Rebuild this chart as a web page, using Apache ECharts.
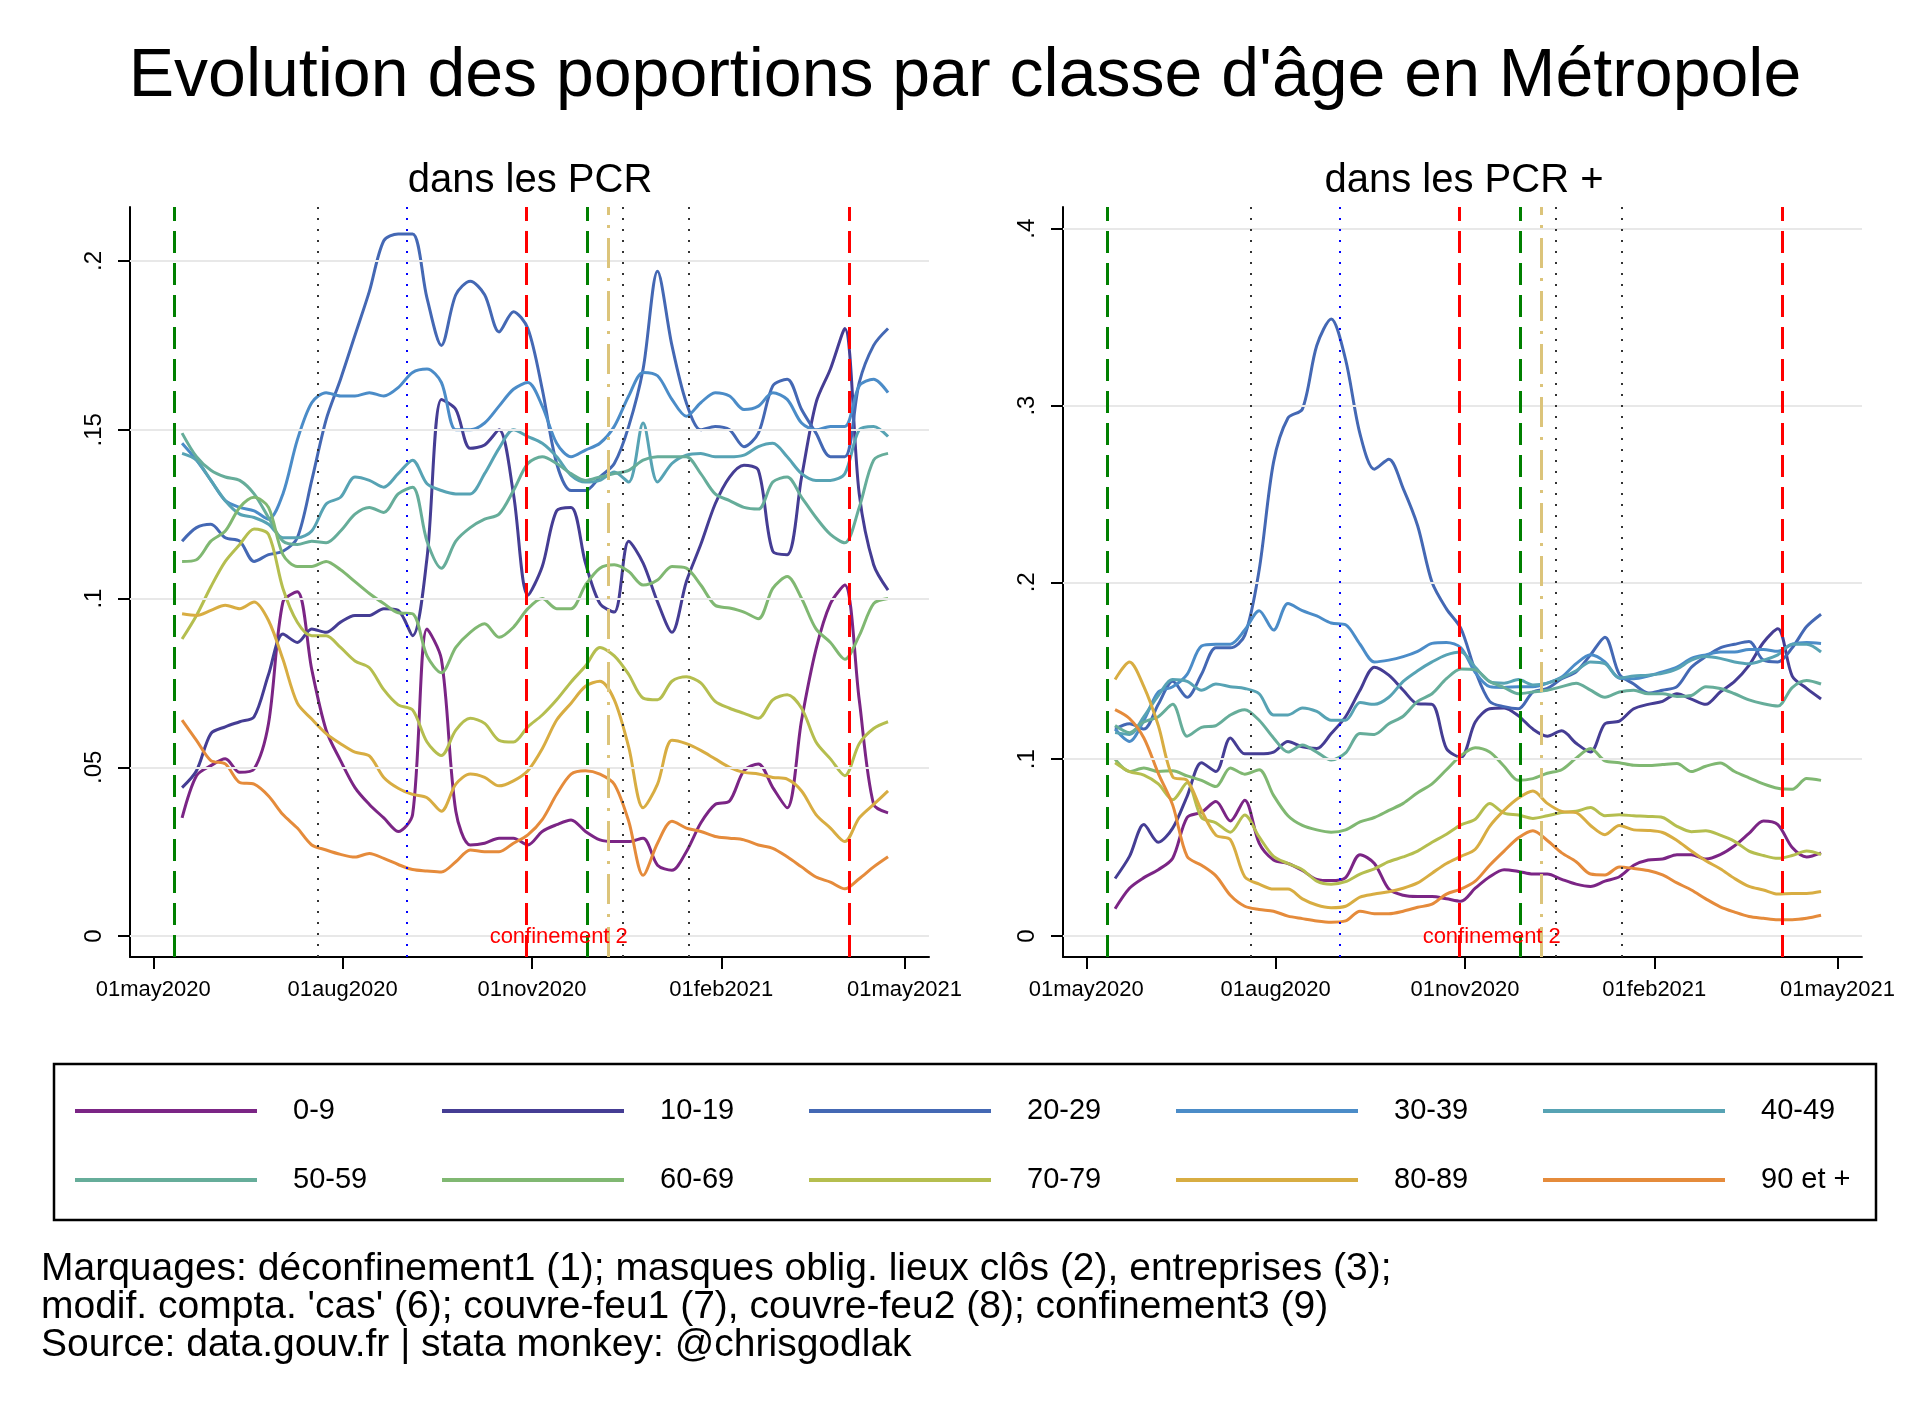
<!DOCTYPE html>
<html lang="fr">
<head>
  <meta charset="utf-8">
  <title>Evolution des proportions par classe d'âge en Métropole</title>
  <style>
    html, body { margin: 0; padding: 0; background: #ffffff; }
    #chart { width: 1930px; height: 1404px; }
  </style>
</head>
<body>
  <div id="chart"></div>

  <script type="text/javascript" src="https://cdn.jsdelivr.net/npm/echarts@6.0.0/dist/echarts.min.js"></script>

  <script type="text/javascript">
    // dates des points (moyenne glissante, une valeur par semaine)
    var dates = [
      '2020-05-15', '2020-05-22', '2020-05-29', '2020-06-05', '2020-06-12', '2020-06-19', '2020-06-26', '2020-07-03', '2020-07-10', '2020-07-17',
      '2020-07-24', '2020-07-31', '2020-08-07', '2020-08-14', '2020-08-21', '2020-08-28', '2020-09-04', '2020-09-11', '2020-09-18', '2020-09-25',
      '2020-10-02', '2020-10-09', '2020-10-16', '2020-10-23', '2020-10-30', '2020-11-06', '2020-11-13', '2020-11-20', '2020-11-27', '2020-12-04',
      '2020-12-11', '2020-12-18', '2020-12-25', '2021-01-01', '2021-01-08', '2021-01-15', '2021-01-22', '2021-01-29', '2021-02-05', '2021-02-12',
      '2021-02-19', '2021-02-26', '2021-03-05', '2021-03-12', '2021-03-19', '2021-03-26', '2021-04-02', '2021-04-09', '2021-04-16', '2021-04-23'
    ];

    var ageGroups = ['0-9', '10-19', '20-29', '30-39', '40-49', '50-59', '60-69', '70-79', '80-89', '90 et +'];
    var ageColors = ['#7b2585', '#453d94', '#4468b4', '#4b8cc8', '#57a3b4', '#66ad9a', '#80b872', '#b5be4f', '#d8ad42', '#e58b3b'];

    // part de chaque classe d'âge dans les PCR
    var pcr_0_9 = [0.035, 0.0475, 0.0505, 0.0525, 0.0485, 0.0495, 0.063, 0.099, 0.102, 0.079,
      0.061, 0.052, 0.044, 0.039, 0.035, 0.031, 0.036, 0.091, 0.082, 0.037,
      0.027, 0.0275, 0.029, 0.029, 0.027, 0.031, 0.033, 0.0344, 0.031, 0.0285,
      0.028, 0.028, 0.029, 0.021, 0.0195, 0.025, 0.0335, 0.039, 0.040, 0.049,
      0.051, 0.044, 0.038, 0.064, 0.085, 0.0985, 0.104, 0.070, 0.039, 0.0365];
    var pcr_10_19 = [0.044, 0.049, 0.060, 0.062, 0.0635, 0.065, 0.0775, 0.0895, 0.087, 0.091,
      0.090, 0.093, 0.095, 0.095, 0.097, 0.0965, 0.089, 0.112, 0.159, 0.156,
      0.1445, 0.1455, 0.150, 0.131, 0.101, 0.1095, 0.126, 0.127, 0.1105, 0.0985,
      0.096, 0.117, 0.1105, 0.099, 0.090, 0.105, 0.116, 0.128, 0.136, 0.1395,
      0.138, 0.114, 0.113, 0.136, 0.158, 0.168, 0.180, 0.131, 0.110, 0.1025];
    var pcr_20_29 = [0.117, 0.121, 0.122, 0.118, 0.117, 0.111, 0.113, 0.114, 0.118, 0.135,
      0.153, 0.165, 0.178, 0.191, 0.206, 0.208, 0.208, 0.189, 0.175, 0.190,
      0.194, 0.190, 0.179, 0.185, 0.180, 0.162, 0.140, 0.132, 0.132, 0.136,
      0.140, 0.151, 0.168, 0.197, 0.175, 0.158, 0.150, 0.151, 0.150, 0.145,
      0.149, 0.163, 0.165, 0.156, 0.149, 0.142, 0.142, 0.164, 0.175, 0.180];
    var pcr_30_39 = [0.146, 0.141, 0.135, 0.129, 0.127, 0.126, 0.1235, 0.131, 0.147, 0.158,
      0.161, 0.160, 0.160, 0.161, 0.160, 0.1625, 0.167, 0.168, 0.164, 0.150,
      0.150, 0.152, 0.157, 0.162, 0.164, 0.157, 0.146, 0.142, 0.144, 0.146,
      0.151, 0.160, 0.167, 0.166, 0.159, 0.154, 0.158, 0.161, 0.160, 0.156,
      0.157, 0.161, 0.159, 0.152, 0.150, 0.151, 0.151, 0.163, 0.165, 0.161];
    var pcr_40_49 = [0.143, 0.141, 0.135, 0.129, 0.125, 0.124, 0.122, 0.118, 0.118, 0.120,
      0.128, 0.130, 0.136, 0.135, 0.133, 0.137, 0.141, 0.134, 0.132, 0.131,
      0.131, 0.137, 0.1445, 0.150, 0.148, 0.146, 0.142, 0.1365, 0.1345, 0.135,
      0.1375, 0.1345, 0.152, 0.1345, 0.140, 0.1425, 0.143, 0.142, 0.142, 0.1425,
      0.145, 0.146, 0.142, 0.137, 0.135, 0.135, 0.137, 0.150, 0.151, 0.148];
    var pcr_50_59 = [0.149, 0.142, 0.138, 0.136, 0.135, 0.131, 0.124, 0.117, 0.116, 0.117,
      0.1165, 0.120, 0.125, 0.127, 0.1255, 0.131, 0.133, 0.117, 0.109, 0.117,
      0.121, 0.1235, 0.125, 0.132, 0.140, 0.142, 0.140, 0.137, 0.135, 0.136,
      0.137, 0.138, 0.141, 0.142, 0.142, 0.142, 0.137, 0.131, 0.129, 0.127,
      0.1265, 0.1345, 0.136, 0.130, 0.124, 0.119, 0.1165, 0.127, 0.141, 0.143];
    var pcr_60_69 = [0.111, 0.1115, 0.117, 0.120, 0.127, 0.130, 0.127, 0.113, 0.1095, 0.1095,
      0.111, 0.1085, 0.105, 0.1015, 0.0985, 0.0958, 0.0955, 0.083, 0.078, 0.0855,
      0.090, 0.0925, 0.0885, 0.0915, 0.097, 0.100, 0.097, 0.097, 0.104, 0.109,
      0.110, 0.108, 0.104, 0.1055, 0.1095, 0.109, 0.104, 0.098, 0.0972, 0.096,
      0.094, 0.103, 0.1065, 0.100, 0.091, 0.087, 0.082, 0.089, 0.0985, 0.100];
    var pcr_70_79 = [0.088, 0.095, 0.1035, 0.111, 0.116, 0.1206, 0.119, 0.103, 0.093, 0.089,
      0.089, 0.0855, 0.0815, 0.0795, 0.073, 0.0685, 0.067, 0.0575, 0.0535, 0.061,
      0.0645, 0.063, 0.058, 0.0575, 0.062, 0.0655, 0.070, 0.0753, 0.080, 0.0855,
      0.083, 0.0775, 0.0705, 0.070, 0.0755, 0.0768, 0.075, 0.0695, 0.0675, 0.066,
      0.0645, 0.070, 0.0715, 0.0675, 0.0575, 0.0525, 0.0475, 0.057, 0.0615, 0.0635];
    var pcr_80_89 = [0.0955, 0.095, 0.0965, 0.098, 0.097, 0.099, 0.0935, 0.082, 0.069, 0.0643,
      0.060, 0.057, 0.0545, 0.0534, 0.047, 0.0438, 0.042, 0.041, 0.037, 0.045,
      0.048, 0.047, 0.0445, 0.046, 0.049, 0.0555, 0.064, 0.069, 0.074, 0.0755,
      0.070, 0.056, 0.038, 0.045, 0.058, 0.057, 0.055, 0.0525, 0.050, 0.0485,
      0.048, 0.047, 0.0465, 0.043, 0.036, 0.032, 0.028, 0.035, 0.039, 0.043];
    var pcr_90 = [0.064, 0.058, 0.052, 0.051, 0.0455, 0.045, 0.0415, 0.036, 0.032, 0.027,
      0.0255, 0.0242, 0.0234, 0.0245, 0.023, 0.0212, 0.0197, 0.0193, 0.019, 0.022,
      0.0255, 0.025, 0.025, 0.0275, 0.030, 0.0345, 0.042, 0.048, 0.049, 0.048,
      0.045, 0.034, 0.018, 0.0275, 0.034, 0.032, 0.031, 0.0295, 0.029, 0.0285,
      0.027, 0.026, 0.0235, 0.0205, 0.0175, 0.016, 0.014, 0.017, 0.0205, 0.0235];

    // part de chaque classe d'âge dans les PCR positives
    var pos_0_9 = [0.0154, 0.027, 0.033, 0.0375, 0.044, 0.067, 0.070, 0.076, 0.065, 0.0768,
      0.0525, 0.043, 0.041, 0.037, 0.032, 0.0313, 0.033, 0.046, 0.041, 0.0265,
      0.023, 0.0223, 0.0223, 0.021, 0.0196, 0.027, 0.0335, 0.0375, 0.0365, 0.035,
      0.035, 0.032, 0.0293, 0.028, 0.031, 0.0335, 0.040, 0.043, 0.0435, 0.046,
      0.046, 0.0435, 0.046, 0.051, 0.058, 0.065, 0.063, 0.050, 0.0447, 0.047];
    var pos_10_19 = [0.0325, 0.045, 0.063, 0.053, 0.061, 0.079, 0.098, 0.093, 0.112, 0.103,
      0.103, 0.104, 0.110, 0.107, 0.106, 0.1145, 0.124, 0.139, 0.152, 0.1475,
      0.139, 0.1313, 0.131, 0.106, 0.101, 0.121, 0.1285, 0.129, 0.1245, 0.117,
      0.113, 0.116, 0.109, 0.104, 0.120, 0.1215, 0.1285, 0.131, 0.1327, 0.137,
      0.134, 0.131, 0.138, 0.144, 0.153, 0.166, 0.1737, 0.147, 0.140, 0.134];
    var pos_20_29 = [0.117, 0.120, 0.117, 0.131, 0.144, 0.135, 0.148, 0.163, 0.163, 0.170,
      0.207, 0.268, 0.293, 0.298, 0.334, 0.349, 0.326, 0.284, 0.264, 0.2696,
      0.253, 0.232, 0.200, 0.185, 0.174, 0.150, 0.1327, 0.1297, 0.1285, 0.138,
      0.140, 0.1455, 0.1494, 0.159, 0.169, 0.148, 0.1425, 0.1374, 0.139, 0.141,
      0.152, 0.158, 0.163, 0.165, 0.1665, 0.156, 0.155, 0.163, 0.175, 0.182];
    var pos_30_39 = [0.117, 0.110, 0.122, 0.138, 0.141, 0.148, 0.164, 0.165, 0.165, 0.173,
      0.184, 0.173, 0.188, 0.184, 0.181, 0.177, 0.176, 0.165, 0.155, 0.156,
      0.158, 0.161, 0.1655, 0.166, 0.163, 0.149, 0.141, 0.1405, 0.141, 0.141,
      0.143, 0.1465, 0.154, 0.159, 0.155, 0.1458, 0.1455, 0.147, 0.1494, 0.152,
      0.157, 0.159, 0.1606, 0.1606, 0.162, 0.162, 0.161, 0.165, 0.166, 0.1654];
    var pos_40_49 = [0.115, 0.114, 0.124, 0.136, 0.145, 0.144, 0.139, 0.1425, 0.141, 0.140,
      0.137, 0.125, 0.125, 0.129, 0.127, 0.122, 0.122, 0.132, 0.131, 0.135,
      0.144, 0.150, 0.155, 0.159, 0.1606, 0.152, 0.1439, 0.143, 0.145, 0.142,
      0.143, 0.146, 0.150, 0.155, 0.154, 0.146, 0.147, 0.1475, 0.1485, 0.151,
      0.156, 0.158, 0.157, 0.155, 0.154, 0.156, 0.159, 0.165, 0.165, 0.1606];
    var pos_50_59 = [0.119, 0.115, 0.121, 0.124, 0.131, 0.113, 0.118, 0.119, 0.125, 0.128,
      0.122, 0.112, 0.104, 0.108, 0.104, 0.0995, 0.1035, 0.1145, 0.114, 0.120,
      0.1243, 0.1327, 0.137, 0.1455, 0.151, 0.1505, 0.1439, 0.1405, 0.137, 0.138,
      0.139, 0.141, 0.143, 0.139, 0.135, 0.138, 0.139, 0.137, 0.137, 0.1355,
      0.136, 0.141, 0.140, 0.137, 0.1335, 0.1313, 0.130, 0.1405, 0.1445, 0.1425];
    var pos_60_69 = [0.100, 0.093, 0.095, 0.093, 0.0935, 0.0905, 0.088, 0.0845, 0.095, 0.0915,
      0.094, 0.0795, 0.068, 0.0625, 0.060, 0.0587, 0.060, 0.0645, 0.067, 0.071,
      0.075, 0.081, 0.086, 0.094, 0.102, 0.1065, 0.104, 0.096, 0.088, 0.089,
      0.092, 0.094, 0.1006, 0.106, 0.099, 0.098, 0.0965, 0.0964, 0.097, 0.0975,
      0.093, 0.096, 0.0978, 0.093, 0.0894, 0.086, 0.0835, 0.083, 0.089, 0.088];
    var pos_70_79 = [0.098, 0.093, 0.091, 0.086, 0.077, 0.0866, 0.067, 0.064, 0.0587, 0.0684,
      0.056, 0.045, 0.041, 0.0375, 0.031, 0.0293, 0.0307, 0.035, 0.038, 0.042,
      0.0447, 0.048, 0.053, 0.0575, 0.0628, 0.066, 0.0749, 0.0695, 0.0684, 0.0665,
      0.068, 0.0698, 0.0705, 0.0726, 0.068, 0.0685, 0.068, 0.0676, 0.067, 0.062,
      0.059, 0.0595, 0.057, 0.0535, 0.048, 0.0455, 0.0439, 0.0455, 0.048, 0.0461];
    var pos_80_89 = [0.145, 0.155, 0.141, 0.119, 0.090, 0.088, 0.071, 0.057, 0.0545, 0.0335,
      0.0293, 0.0265, 0.0265, 0.021, 0.0175, 0.016, 0.0168, 0.022, 0.0237, 0.025,
      0.027, 0.030, 0.0355, 0.041, 0.045, 0.049, 0.062, 0.071, 0.078, 0.082,
      0.075, 0.0705, 0.0698, 0.0625, 0.0573, 0.0625, 0.060, 0.0597, 0.0585, 0.054,
      0.048, 0.0425, 0.038, 0.0325, 0.028, 0.026, 0.0237, 0.024, 0.024, 0.0251];
    var pos_90 = [0.128, 0.123, 0.112, 0.092, 0.074, 0.045, 0.040, 0.034, 0.023, 0.0168,
      0.015, 0.014, 0.0112, 0.0098, 0.0085, 0.0078, 0.0085, 0.014, 0.0126, 0.0126,
      0.014, 0.0162, 0.018, 0.0237, 0.0265, 0.031, 0.040, 0.048, 0.0555, 0.0595,
      0.054, 0.047, 0.042, 0.035, 0.0345, 0.039, 0.0382, 0.037, 0.0345, 0.030,
      0.026, 0.021, 0.0165, 0.0135, 0.011, 0.010, 0.0092, 0.0092, 0.010, 0.0117];

    var pcrSeries = [pcr_0_9, pcr_10_19, pcr_20_29, pcr_30_39, pcr_40_49, pcr_50_59, pcr_60_69, pcr_70_79, pcr_80_89, pcr_90];
    var posSeries = [pos_0_9, pos_10_19, pos_20_29, pos_30_39, pos_40_49, pos_50_59, pos_60_69, pos_70_79, pos_80_89, pos_90];

    // axe des dates
    var tickDates = ['2020-05-01', '2020-08-01', '2020-11-01', '2021-02-01', '2021-05-01'];
    var tickLabels = ['01may2020', '01aug2020', '01nov2020', '01feb2021', '01may2021'];
    var pcrTicks = [0, 0.05, 0.1, 0.15, 0.2];
    var posTicks = [0, 0.1, 0.2, 0.3, 0.4];

    // marquages verticaux
    var events = [
      { date: '2020-05-11', kind: 'deconf' },
      { date: '2020-07-20', kind: 'mesure' },
      { date: '2020-09-01', kind: 'entreprises' },
      { date: '2020-10-29', kind: 'confinement' },
      { date: '2020-11-28', kind: 'deconf' },
      { date: '2020-12-08', kind: 'compta' },
      { date: '2020-12-15', kind: 'mesure' },
      { date: '2021-01-16', kind: 'mesure' },
      { date: '2021-04-04', kind: 'confinement' }
    ];
    var confLabel = { date: '2020-11-14', text: 'confinement 2' };

    var FONT = '"Liberation Sans", Arial, Helvetica, sans-serif';
    var ORIGIN = Date.parse('2020-05-01');
    function dayOf(d) {
      return Math.round((Date.parse(d) - ORIGIN) / 86400000);
    }

    var days = dates.map(dayOf);
    var tickDays = tickDates.map(dayOf);

    var eventStyles = {
      deconf:      { color: '#008000', width: 3, type: [22, 10] },
      confinement: { color: '#ff0000', width: 3, type: [22, 10] },
      mesure:      { color: '#333333', width: 2, type: [2, 9] },
      entreprises: { color: '#0000ff', width: 2, type: [2, 9] },
      compta:      { color: '#dcc47a', width: 3, type: [30, 10, 3, 10] }
    };

    function fmtY(v) {
      if (Math.abs(v) < 1e-9) return '0';
      return String(+v.toFixed(2)).replace(/^0\./, '.');
    }
    function fmtX(v) {
      var i = tickDays.indexOf(Math.round(v));
      return i >= 0 ? tickLabels[i] : '';
    }

    var gridLefts = [130, 1063];
    var grids = gridLefts.map(function (l) {
      return { left: l, top: 207, width: 799, height: 750, outerBoundsMode: 'none', containLabel: false };
    });

    var xAxes = [0, 1].map(function (g) {
      return {
        type: 'value', gridIndex: g, min: -11.3, max: 376.9,
        axisLine: { show: true, onZero: false, lineStyle: { color: '#000', width: 2 } },
        axisTick: { show: true, customValues: tickDays, length: 12, lineStyle: { color: '#000', width: 2 } },
        axisLabel: { show: true, customValues: tickDays, formatter: fmtX, margin: 22, fontSize: 22, color: '#000', fontFamily: FONT },
        splitLine: { show: false }
      };
    });

    var yRanges = [[-0.0062, 0.216, pcrTicks], [-0.0119, 0.4123, posTicks]];
    var yAxes = [0, 1].map(function (g) {
      return {
        type: 'value', gridIndex: g, min: yRanges[g][0], max: yRanges[g][1],
        axisLine: { show: true, onZero: false, lineStyle: { color: '#000', width: 2 } },
        axisTick: { show: true, customValues: yRanges[g][2], length: 12, lineStyle: { color: '#000', width: 2 } },
        axisLabel: { show: true, customValues: yRanges[g][2], formatter: fmtY, rotate: 90, margin: 24, fontSize: 24, color: '#000', fontFamily: FONT },
        splitLine: { show: false }
      };
    });

    var series = [];
    [pcrSeries, posSeries].forEach(function (set, g) {
      // traits de fond : grille horizontale + marquages verticaux
      var lines = yRanges[g][2].map(function (v) {
        return { yAxis: v, lineStyle: { color: '#e8e8e8', width: 2, type: 'solid' } };
      }).concat(events.map(function (e) {
        return { xAxis: dayOf(e.date), lineStyle: eventStyles[e.kind] };
      }));
      series.push({
        name: 'marquages' + g,
        type: 'line', xAxisIndex: g, yAxisIndex: g, data: [],
        silent: true, z: 1,
        markLine: { symbol: ['none', 'none'], silent: true, animation: false, label: { show: false }, data: lines },
        markPoint: {
          symbol: 'rect', symbolSize: 1, silent: true, animation: false,
          itemStyle: { color: 'transparent' },
          data: [{
            coord: [dayOf(confLabel.date), 0],
            label: { show: true, position: 'inside', offset: [0, 1], formatter: confLabel.text, color: '#ff0000', fontSize: 22, fontFamily: FONT }
          }]
        }
      });
      set.forEach(function (vals, i) {
        series.push({
          name: ageGroups[i],
          type: 'line', xAxisIndex: g, yAxisIndex: g,
          data: vals.map(function (v, k) { return [days[k], v]; }),
          showSymbol: false, symbol: 'none', smooth: 0.3,
          lineStyle: { color: ageColors[i], width: 3 },
          itemStyle: { color: ageColors[i] },
          z: 3, silent: true
        });
      });
    });

    // légende en 5 colonnes de 2 lignes
    var legends = [0, 1, 2, 3, 4].map(function (c) {
      return {
        data: [ageGroups[c], ageGroups[c + 5]],
        orient: 'vertical', left: 75 + 367 * c, top: 1093.5, padding: 0,
        itemGap: 34, itemWidth: 182, itemHeight: 4, icon: 'rect',
        selectedMode: false,
        textStyle: { fontSize: 29, fontFamily: FONT, color: '#000', lineHeight: 35, padding: [0, 0, 0, 31] }
      };
    });

    var option = {
      backgroundColor: '#ffffff',
      animation: false,
      color: ageColors,
      title: {
        text: "Evolution des poportions par classe d'âge en Métropole",
        left: 'center', top: 37, padding: 0,
        textStyle: { fontFamily: FONT, fontSize: 68, fontWeight: 'normal', color: '#000', lineHeight: 80 }
      },
      legend: legends,
      grid: grids,
      xAxis: xAxes,
      yAxis: yAxes,
      series: series,
      graphic: [
        { type: 'text', x: 530, y: 181, silent: true,
          style: { text: 'dans les PCR', fontSize: 40, fontFamily: FONT, fill: '#000', textAlign: 'center', textVerticalAlign: 'middle', align: 'center', verticalAlign: 'middle' } },
        { type: 'text', x: 1464, y: 181, silent: true,
          style: { text: 'dans les PCR +', fontSize: 40, fontFamily: FONT, fill: '#000', textAlign: 'center', textVerticalAlign: 'middle', align: 'center', verticalAlign: 'middle' } },
        { type: 'rect', silent: true, shape: { x: 54, y: 1064, width: 1822, height: 156 },
          style: { fill: 'none', stroke: '#000', lineWidth: 2.5 } },
        { type: 'text', x: 41, y: 1250, silent: true,
          style: {
            text: "Marquages: déconfinement1 (1); masques oblig. lieux clôs (2), entreprises (3);\nmodif. compta. 'cas' (6); couvre-feu1 (7), couvre-feu2 (8); confinement3 (9)\nSource: data.gouv.fr | stata monkey: @chrisgodlak",
            fontSize: 39, fontFamily: FONT, fill: '#000', lineHeight: 38,
            textAlign: 'left', textVerticalAlign: 'top', align: 'left', verticalAlign: 'top'
          } }
      ]
    };

    var chart = echarts.init(document.getElementById('chart'), null, { renderer: 'canvas' });
    chart.setOption(option);
    window.addEventListener('resize', chart.resize);
  </script>
</body>
</html>
